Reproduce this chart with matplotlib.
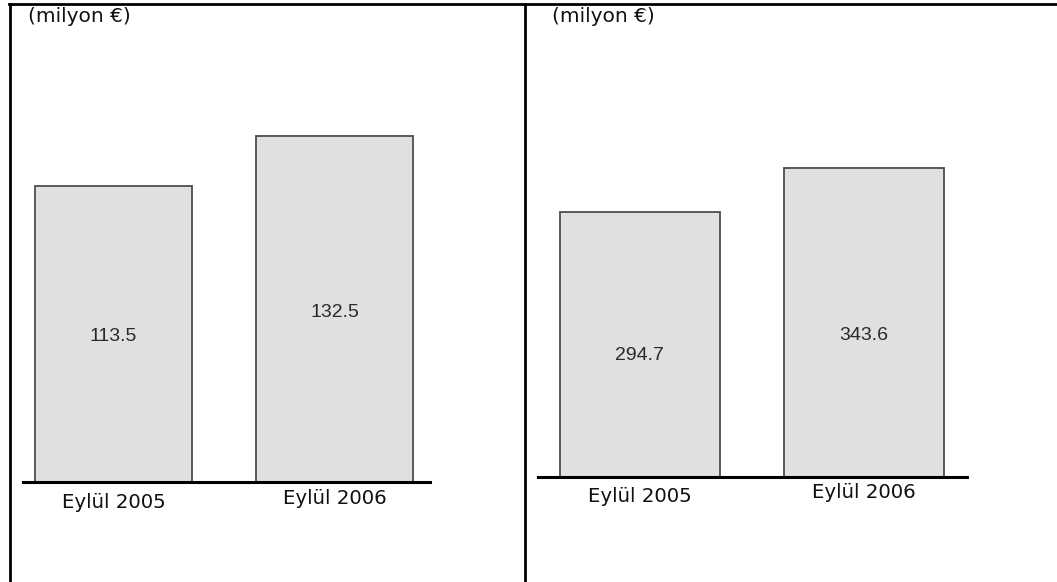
import matplotlib
matplotlib.use("Agg")
import matplotlib.pyplot as plt
from matplotlib.lines import Line2D

# Data
categories = ["Eylül 2005", "Eylül 2006"]
left_values = [113.5, 132.5]
right_values = [294.7, 343.6]
unit_label = "(milyon €)"

W, H = 1057, 582
fig = plt.figure(figsize=(W / 100, H / 100), dpi=100)
fig.patch.set_facecolor("white")


def px_box(x0, x1, y_top, y_base):
    """Axes rectangle from pixel coordinates (origin top-left)."""
    return [x0 / W, (H - y_base) / H, (x1 - x0) / W, (y_base - y_top) / H]


def draw_panel(values, box, xlim, ymax, bar_width, label_frac, tick_drops):
    ax = fig.add_axes(box)
    ax.set_facecolor("none")
    pos = list(range(len(values)))
    ax.bar(pos, values, width=bar_width, color="#e0e0e0",
           edgecolor="#4d4d4d", linewidth=1.3, zorder=2)
    ax.set_xlim(*xlim)
    ax.set_ylim(0, ymax)
    for s in ("top", "left", "right"):
        ax.spines[s].set_visible(False)
    ax.spines["bottom"].set_linewidth(2.2)
    ax.spines["bottom"].set_color("black")
    ax.spines["bottom"].set_zorder(3)
    ax.set_xticks([])
    ax.set_yticks([])
    for p, v in zip(pos, values):
        ax.text(p, v * label_frac, f"{v:.1f}", ha="center", va="center",
                fontsize=14, family="Liberation Sans", color="#2a2a2a")
    for p, cat, drop in zip(pos, categories, tick_drops):
        ax.annotate(cat, xy=(p, 0), xytext=(0, -drop * 0.72),
                    textcoords="offset points", ha="center", va="center",
                    fontsize=14.2, family="DejaVu Sans", color="#111111",
                    annotation_clip=False)
    return ax


# Left panel
draw_panel(left_values, px_box(23, 430, 20, 482), (-0.41, 1.432),
           462 / 2.61, 0.71, 0.49, [21, 16])
# Right panel
draw_panel(right_values, px_box(538, 967, 20, 477), (-0.455, 1.46),
           457 / 0.898, 0.714, 0.46, [20, 15])

# Unit captions
fig.text(28 / W, 1 - 16 / H, unit_label, ha="left", va="center",
         fontsize=14.5, family="DejaVu Sans", color="#111111")
fig.text(552 / W, 1 - 16 / H, unit_label, ha="left", va="center",
         fontsize=14.5, family="DejaVu Sans", color="#111111")

# Frame lines
lw = 2.0
fig.add_artist(Line2D([9 / W, 1.0], [1 - 4 / H, 1 - 4 / H], color="black",
                      linewidth=lw, transform=fig.transFigure))
fig.add_artist(Line2D([10 / W, 10 / W], [0, 1 - 4 / H], color="black",
                      linewidth=lw, transform=fig.transFigure))
fig.add_artist(Line2D([525 / W, 525 / W], [0, 1 - 4 / H], color="black",
                      linewidth=lw, transform=fig.transFigure))

fig.savefig("out.png", dpi=100, facecolor="white")
